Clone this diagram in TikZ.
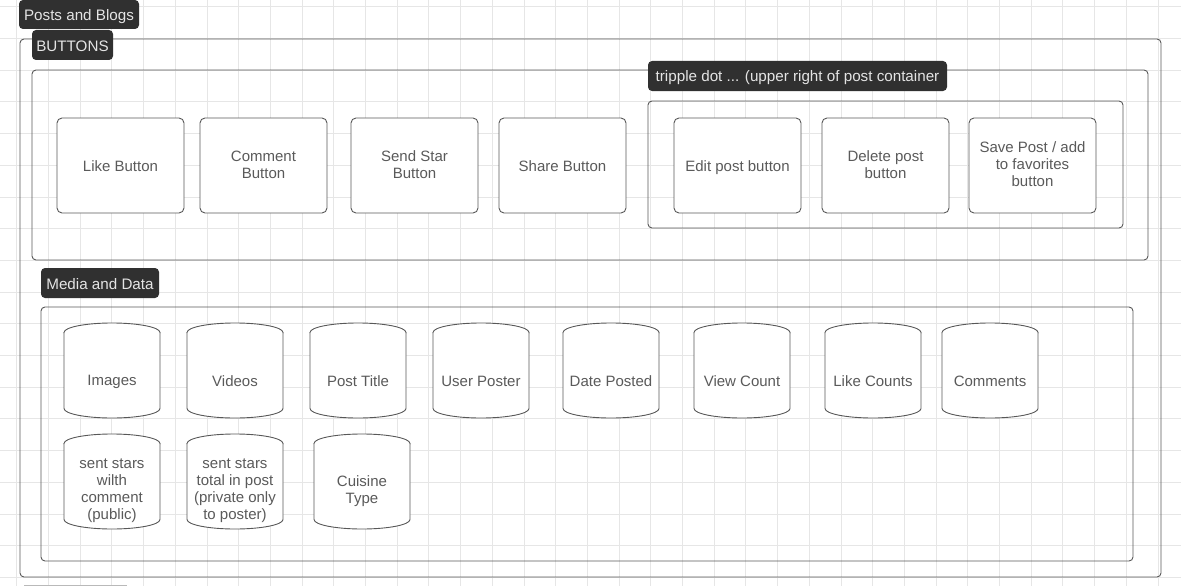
\documentclass[tikz,border=0pt]{standalone}
\usepackage{fontspec}
\setmainfont{Liberation Sans}
\definecolor{gridc}{HTML}{E6E6E6}
\definecolor{strokec}{HTML}{585858}
\definecolor{textc}{HTML}{5A5A5A}
\definecolor{labelbg}{HTML}{303030}
\definecolor{labeltx}{HTML}{E4E4E4}
\newcommand\mystrut{\vrule height 14.6pt depth 2.4pt width 0pt\relax}
\tikzset{
  gridline/.style={draw=gridc, line width=0.8pt},
  container/.style={draw=strokec, line width=0.9pt, rounded corners=4pt},
  tag/.style={fill=labelbg, rounded corners=4pt, text=labeltx, inner sep=0pt,
    font=\fontsize{15.2}{17}\selectfont, minimum height=30pt,
    execute at begin node={\mystrut}, execute at end node={\mystrut}},
  btn/.style={draw=strokec, fill=white, line width=0.9pt, rounded corners=5pt,
    minimum width=127pt, minimum height=95pt, inner sep=0pt, align=center,
    text=textc, font=\fontsize{15}{17}\selectfont,
    execute at begin node={\mystrut}, execute at end node={\mystrut}},
  cylbody/.style={draw=strokec, fill=white, line width=0.9pt},
  cyltext/.style={inner sep=0pt, align=center, text=textc, font=\fontsize{15}{17}\selectfont,
    execute at begin node={\mystrut}, execute at end node={\mystrut}},
}
% #1 name, #2 left x, #3 top y, #4 text
\newcommand\mycyl[4]{%
  \fill[white] (#2,#3+9.5) -- (#2,95+#3-9.5) arc[start angle=180,end angle=360,x radius=48pt,y radius=9.5pt] -- (#2+96,#3+9.5) arc[start angle=0,end angle=180,x radius=48pt,y radius=9.5pt] -- cycle;
  \draw[cylbody] (#2+48,#3+9.5) ellipse[x radius=48pt, y radius=9.5pt];
  \draw[cylbody] (#2,#3+9.5) -- (#2,95+#3-9.5) arc[start angle=180,end angle=360,x radius=48pt,y radius=9.5pt] -- (#2+96,#3+9.5);
  \node[cyltext] (#1) at (#2+48,{#3+(95+19)/2}) {#4};
}
\begin{document}
\begin{tikzpicture}[x=1pt,y=-1pt]
\useasboundingbox (0,0) rectangle (1181,586);
\fill[white] (0,0) rectangle (1181,586);
% grid
\foreach \i in {0,...,36} \draw[gridline] ({16.7+31.7*\i},0) -- ({16.7+31.7*\i},586);
\foreach \j in {0,...,18} \draw[gridline] (0,{6.7+31.7*\j}) -- (1181,{6.7+31.7*\j});
% containers
\draw[container] (20,39) rectangle (1161,577);
\draw[container] (32,70) rectangle (1148,260);
\draw[container] (648,101) rectangle (1123,228);
\draw[container] (41,307) rectangle (1133,561);
% labels
\node[tag, minimum width=120pt, minimum height=29pt] (posts) at (79,14.5) {Posts and Blogs};
\node[tag, minimum width=81pt] (buttons) at (72.5,45) {BUTTONS};
\node[tag, minimum width=299pt] (tripple) at (797.5,76) {tripple dot ... (upper right of post container};
\node[tag, minimum width=118pt] (media) at (100,283) {Media and Data};
% buttons
\node[btn] (like) at (120.5,165.5) {Like Button};
\node[btn] (comment) at (263.5,165.5) {Comment\\Button};
\node[btn] (sendstar) at (414.5,165.5) {Send Star\\Button};
\node[btn] (share) at (562.5,165.5) {Share Button};
\node[btn] (edit) at (737.5,165.5) {Edit post button};
\node[btn] (delete) at (885.5,165.5) {Delete post\\button};
\node[btn] (save) at (1032.5,165.5) {Save Post / add\\to favorites\\button};
% cylinders
\mycyl{images}{64}{323}{Images}
\mycyl{videos}{187}{323}{Videos}
\mycyl{posttitle}{310}{323}{Post Title}
\mycyl{userposter}{433}{323}{User Poster}
\mycyl{dateposted}{563}{323}{Date Posted}
\mycyl{viewcount}{694}{323}{View Count}
\mycyl{likecounts}{825}{323}{Like Counts}
\mycyl{comments}{942}{323}{Comments}
\mycyl{sentstars}{64}{434}{sent stars\\wilth\\comment\\(public)}
\mycyl{starstotal}{187}{434}{sent stars\\total in post\\(private only\\to poster)}
\mycyl{cuisine}{314}{434}{Cuisine\\Type}
% partial element at bottom edge
\draw[draw=gray!55, line width=0.9pt] (24,585.5) -- (127,585.5);
\end{tikzpicture}
\end{document}
